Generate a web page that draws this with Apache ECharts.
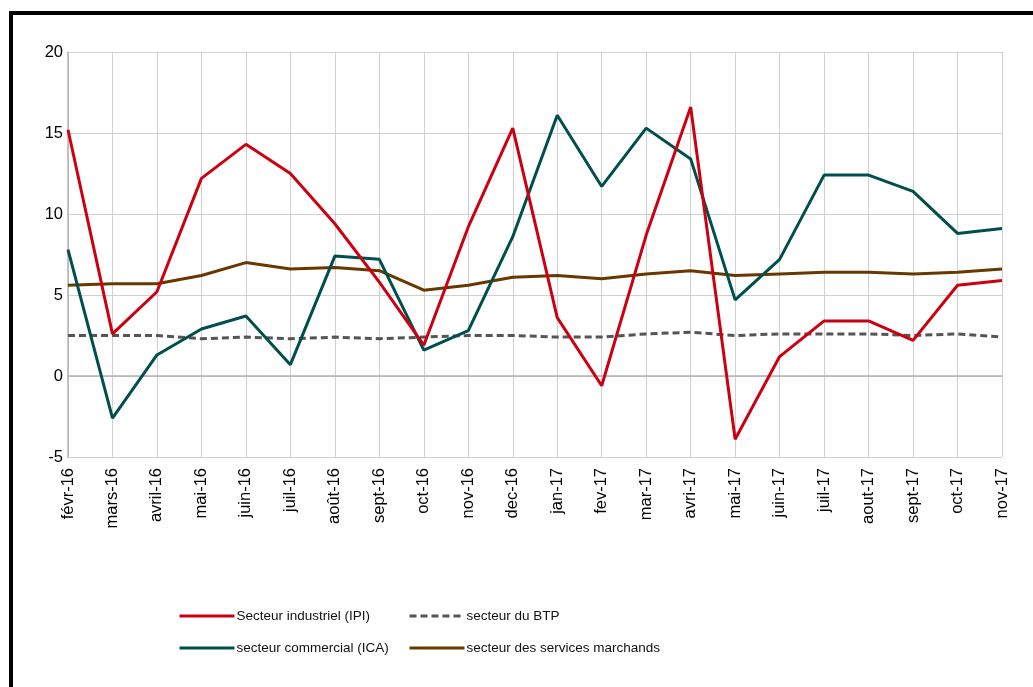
<!DOCTYPE html>
<html><head><meta charset="utf-8">
<script src="https://cdn.jsdelivr.net/npm/echarts@6/dist/echarts.min.js"></script>
<style>html,body{margin:0;padding:0;background:#fff}#c{width:1033px;height:687px}</style>
</head><body><div id="c"></div>
<script>
const categories = ['févr-16','mars-16','avril-16','mai-16','juin-16','juil-16','août-16','sept-16','oct-16','nov-16','dec-16','jan-17','fev-17','mar-17','avri-17','mai-17','juin-17','juil-17','aout-17','sept-17','oct-17','nov-17'];
const ipi = [15.2,2.6,5.2,12.2,14.3,12.5,9.4,5.8,1.9,9.2,15.3,3.6,-0.6,8.7,16.6,-3.9,1.2,3.4,3.4,2.2,5.6,5.9];
const ica = [7.8,-2.6,1.3,2.9,3.7,0.7,7.4,7.2,1.6,2.8,8.6,16.1,11.7,15.3,13.4,4.7,7.2,12.4,12.4,11.4,8.8,9.1];
const btp = [2.5,2.5,2.5,2.3,2.4,2.3,2.4,2.3,2.4,2.5,2.5,2.4,2.4,2.6,2.7,2.5,2.6,2.6,2.6,2.5,2.6,2.4];
const services = [5.6,5.7,5.7,6.2,7.0,6.6,6.7,6.5,5.3,5.6,6.1,6.2,6.0,6.3,6.5,6.2,6.3,6.4,6.4,6.3,6.4,6.6];
const names = ['Secteur industriel (IPI)','secteur commercial (ICA)','secteur du BTP','secteur des services marchands'];

const chart = echarts.init(document.getElementById('c'));
const font = 'Liberation Sans, Arial, sans-serif';
const legendBase = {
  orient: 'vertical', top: 609, itemWidth: 55, itemHeight: 14, itemGap: 18,
  itemStyle: {opacity: 0},
  lineStyle: {width: 3},
  textStyle: {fontFamily: font, fontSize: 13.5, color: '#111', padding: [0,0,0,-3]},
  padding: 0, selectedMode: false
};
chart.setOption({
  animation: false,
  graphic: [{type:'rect', shape:{x:11, y:13, width:1200, height:900}, style:{fill:'none', stroke:'#000', lineWidth:4}, z:-1}],
  grid: {left: 68, right: 31, top: 52, bottom: 230},
  legend: [
    Object.assign({}, legendBase, {left: 178, data: [names[0], names[1]]}),
    Object.assign({}, legendBase, {left: 408, data: [names[2], names[3]]})
  ],
  xAxis: {
    type: 'category', data: categories, boundaryGap: false,
    axisLine: {lineStyle: {color: '#b3b3b3', width: 1.5}},
    axisTick: {show: false},
    axisLabel: {rotate: 90, interval: 0, fontFamily: font, fontSize: 16.5, color: '#000', margin: 11},
    splitLine: {show: true, lineStyle: {color: '#d0d0d0', width: 1}}
  },
  yAxis: {
    type: 'value', min: -5, max: 20, interval: 5,
    axisLine: {show: true, lineStyle: {color: '#b3b3b3', width: 1.5}},
    axisTick: {show: false},
    axisLabel: {fontFamily: font, fontSize: 16.5, color: '#000', margin: 5},
    splitLine: {lineStyle: {color: '#d0d0d0', width: 1}}
  },
  series: [
    {name: names[0], type: 'line', data: ipi, symbol: 'none', lineStyle: {color: '#cc0011', width: 3}, itemStyle: {color: '#cc0011'}, z: 4},
    {name: names[1], type: 'line', data: ica, symbol: 'none', lineStyle: {color: '#004f4c', width: 3}, itemStyle: {color: '#004f4c'}, z: 3},
    {name: names[2], type: 'line', data: btp, symbol: 'none', lineStyle: {color: '#555555', width: 3, type: [7,4]}, itemStyle: {color: '#555555'}, z: 1},
    {name: names[3], type: 'line', data: services, symbol: 'none', lineStyle: {color: '#683800', width: 3}, itemStyle: {color: '#683800'}, z: 2}
  ]
});
</script></body></html>
